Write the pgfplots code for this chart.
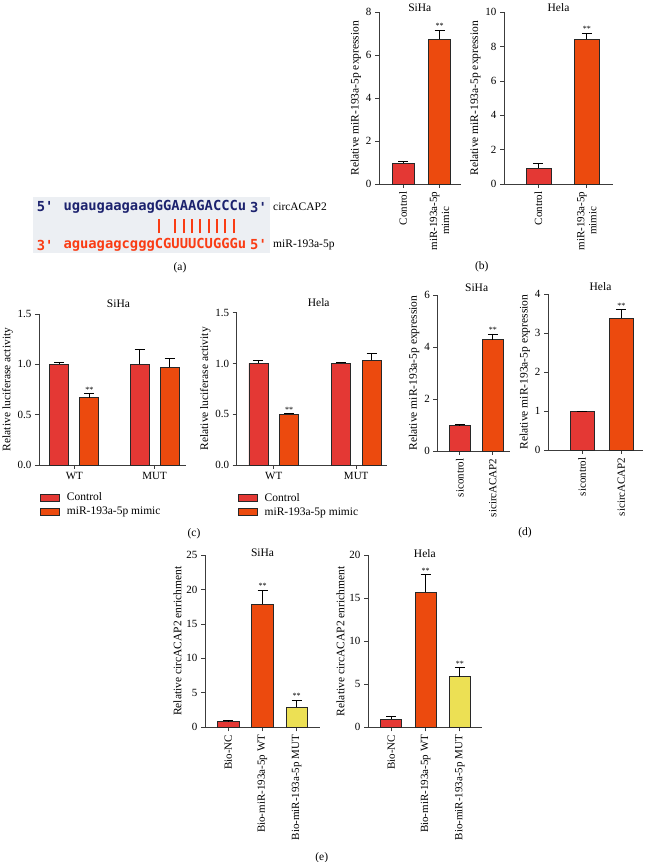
\documentclass[border=0pt]{standalone}
\usepackage{pgfplots}
\pgfplotsset{compat=1.18}
\usepackage{fontspec}
\setmainfont{Liberation Serif}
\newfontfamily\seqfont{DejaVu Sans Mono}

\definecolor{cctrl}{RGB}{228,56,52}
\definecolor{cmimic}{RGB}{236,74,14}
\definecolor{cyel}{RGB}{236,224,84}
\definecolor{edge}{RGB}{40,40,40}
\definecolor{axisc}{RGB}{60,60,60}
\definecolor{navy}{RGB}{28,34,110}
\definecolor{seqred}{RGB}{250,60,20}
\definecolor{boxbg}{RGB}{236,239,243}

\newcommand{\lab}{\fontsize{11.5}{13}\selectfont}
\newcommand{\tck}{\fontsize{11}{12}\selectfont}

\pgfplotsset{
  panel/.style={scale only axis, anchor=south west,
    axis x line*=bottom, axis y line*=left,
    axis line style={-, line width=0.8pt, axisc},
    tick align=outside, major tick length=4pt,
    tick style={line width=0.8pt, axisc},
    ymin=0, ybar, clip=false,
    /pgf/number format/assume math mode=true,
    tick label style={font=\tck},
    label style={font=\lab},
    ylabel style={yshift=-2pt},
    every axis title/.style={at={(0.5,1)}, anchor=center, font=\lab, inner sep=0pt}},
  rotlab/.style={xticklabel style={rotate=90, anchor=east, align=center}},
  bb/.style={fill=#1, draw=edge, line width=0.7pt, bar shift=0pt,
    error bars/y dir=plus, error bars/y explicit,
    error bars/error bar style={line width=0.8pt, black},
    error bars/error mark options={rotate=90, mark size=5pt, line width=0.8pt, black},
    legend image code/.code={\draw[##1] (0pt,-3.5pt) rectangle (19pt,3.5pt); \path (24pt,0pt);}},
}
\tikzset{stars/.style={font=\fontsize{8}{8}\selectfont, anchor=south, inner sep=1pt}}

\begin{document}
\begin{tikzpicture}[x=1pt,y=1pt]
\path[use as bounding box] (0,0) rectangle (648,862);

% (a) sequence pairing
\fill[boxbg] (32.7,665.3) rectangle (270,608.7);
\begin{scope}[every node/.style={anchor=west, inner sep=0pt, font=\seqfont\bfseries\fontsize{13.8}{14}\selectfont}]
  \node[text=navy] at (36.7,655) {5'};
  \node[text=navy] at (63.3,655) {ugaugaagaagGGAAAGACCCu};
  \node[text=navy] at (250,655) {3'};
  \node[text=seqred] at (36.7,617) {3'};
  \node[text=seqred] at (63.3,617) {aguagagcgggCGUUUCUGGGu};
  \node[text=seqred] at (250,617) {5'};
\end{scope}
\foreach \k in {11,13,14,15,16,17,18,19,20}
  \draw[seqred, line width=2pt] ({63.3+8.31*(\k+0.5)},628.7) -- ({63.3+8.31*(\k+0.5)},642.7);
\node[anchor=west, font=\lab, inner sep=0pt] at (273,655) {circACAP2};
\node[anchor=west, font=\lab, inner sep=0pt] at (273,617) {miR-193a-5p};
\node[font=\lab] at (180,594) {(a)};

% (b)
\begin{axis}[panel, rotlab, at={(379pt,678pt)}, width=81.7pt, height=171.7pt,
  xmin=-0.66, xmax=1.58, ymax=8, ytick={0,2,4,6,8}, bar width=22pt,
  xtick={0,1}, xticklabels={Control,{miR-193a-5p\\mimic}},
  ylabel={Relative miR-193a-5p expression}, title={SiHa}, title style={yshift=5pt}]
\addplot[bb=cctrl] coordinates {(0,0.97) +- (0,0.06)};
\addplot[bb=cmimic] coordinates {(1,6.75) +- (0,0.42)};
\node[stars] at (axis cs:1,7.17) {**};
\end{axis}

\begin{axis}[panel, rotlab, at={(504pt,678pt)}, width=109pt, height=171.7pt,
  xmin=-0.71, xmax=1.54, ymax=10, ytick={0,2,4,6,8,10}, bar width=25pt,
  xtick={0,1}, xticklabels={Control,{miR-193a-5p\\mimic}},
  ylabel={Relative miR-193a-5p expression}, title={Hela}, title style={yshift=5pt}]
\addplot[bb=cctrl] coordinates {(0,0.93) +- (0,0.25)};
\addplot[bb=cmimic] coordinates {(1,8.43) +- (0,0.36)};
\node[stars] at (axis cs:1,8.79) {**};
\end{axis}
\node[font=\lab] at (481.7,595.3) {(b)};

% (c)
\begin{axis}[panel, at={(39pt,397pt)}, width=147pt, height=151pt,
  xmin=-0.44, xmax=1.39, ymax=1.5, ytick={0,0.5,1,1.5},
  yticklabel style={/pgf/number format/.cd, fixed, fixed zerofill, precision=1},
  bar width=19pt, xtick={0,1}, xticklabels={WT,MUT},
  ylabel={Relative luciferase activity}, title={SiHa}, title style={yshift=10pt, xshift=6pt},
  legend style={at={(0.007,-0.17)}, anchor=north west, draw=none, fill=none,
    font=\lab, inner sep=0pt, row sep=1pt}, legend cell align=left]
\addplot[bb=cctrl, bar shift=-15pt] coordinates {(0,1.0) +- (0,0.015) (1,1.0) +- (0,0.15)};
\addlegendentry{Control}
\addplot[bb=cmimic, bar shift=15pt] coordinates {(0,0.67) +- (0,0.04) (1,0.97) +- (0,0.09)};
\addlegendentry{miR-193a-5p mimic}
\node[stars, xshift=15pt] at (axis cs:0,0.71) {**};
\end{axis}

\begin{axis}[panel, at={(236.7pt,397pt)}, width=150pt, height=152.3pt,
  xmin=-0.45, xmax=1.37, ymax=1.5, ytick={0,0.5,1,1.5},
  yticklabel style={/pgf/number format/.cd, fixed, fixed zerofill, precision=1},
  bar width=19pt, xtick={0,1}, xticklabels={WT,MUT},
  ylabel={Relative luciferase activity}, title={Hela}, title style={yshift=10pt, xshift=7pt},
  legend style={at={(0.007,-0.17)}, anchor=north west, draw=none, fill=none,
    font=\lab, inner sep=0pt, row sep=1pt}, legend cell align=left]
\addplot[bb=cctrl, bar shift=-15.3pt] coordinates {(0,1.0) +- (0,0.03) (1,1.0) +- (0,0.01)};
\addlegendentry{Control}
\addplot[bb=cmimic, bar shift=15.3pt] coordinates {(0,0.5) +- (0,0.01) (1,1.03) +- (0,0.07)};
\addlegendentry{miR-193a-5p mimic}
\node[stars, xshift=15.3pt] at (axis cs:0,0.51) {**};
\end{axis}
\node[font=\lab] at (194,328.7) {(c)};

% (d)
\begin{axis}[panel, rotlab, at={(437.3pt,411pt)}, width=72.7pt, height=156pt,
  xmin=-0.68, xmax=1.52, ymax=6, ytick={0,2,4,6}, bar width=20.5pt,
  xtick={0,1}, xticklabels={sicontrol,sicircACAP2},
  ylabel={Relative miR-193a-5p expression}, title={SiHa}, title style={yshift=7pt, xshift=3pt}]
\addplot[bb=cctrl] coordinates {(0,0.97) +- (0,0.04)};
\addplot[bb=cmimic] coordinates {(1,4.28) +- (0,0.22)};
\node[stars] at (axis cs:1,4.5) {**};
\end{axis}

\begin{axis}[panel, rotlab, at={(548pt,412pt)}, width=95pt, height=156pt,
  xmin=-0.875, xmax=1.555, ymax=4, ytick={0,1,2,3,4}, bar width=24pt,
  xtick={0,1}, xticklabels={sicontrol,sicircACAP2},
  ylabel={Relative miR-193a-5p expression}, title={Hela}, title style={yshift=7pt, xshift=5pt}]
\addplot[bb=cctrl] coordinates {(0,0.98) +- (0,0.02)};
\addplot[bb=cmimic] coordinates {(1,3.38) +- (0,0.22)};
\node[stars] at (axis cs:1,3.6) {**};
\end{axis}
\node[font=\lab] at (525,329.3) {(d)};

% (e)
\begin{axis}[panel, rotlab, at={(205pt,134.7pt)}, width=115pt, height=172.3pt,
  xmin=-0.68, xmax=2.68, ymax=25, ytick={0,5,10,15,20,25}, bar width=21.5pt,
  xtick={0,1,2}, xticklabels={Bio-NC,Bio-miR-193a-5p WT,Bio-miR-193a-5p MUT},
  ylabel={Relative circACAP2 enrichment}, title={SiHa}, title style={yshift=2pt}]
\addplot[bb=cctrl] coordinates {(0,0.9) +- (0,0.05)};
\addplot[bb=cmimic] coordinates {(1,17.85) +- (0,2.05)};
\addplot[bb=cyel] coordinates {(2,2.9) +- (0,1.06)};
\node[stars] at (axis cs:1,19.9) {**};
\node[stars] at (axis cs:2,3.96) {**};
\end{axis}

\begin{axis}[panel, rotlab, at={(368pt,134.7pt)}, width=113.7pt, height=172pt,
  xmin=-0.68, xmax=2.64, ymax=20, ytick={0,5,10,15,20}, bar width=21pt,
  xtick={0,1,2}, xticklabels={Bio-NC,Bio-miR-193a-5p WT,Bio-miR-193a-5p MUT},
  ylabel={Relative circACAP2 enrichment}, title={Hela}, title style={yshift=2pt}]
\addplot[bb=cctrl] coordinates {(0,0.93) +- (0,0.3)};
\addplot[bb=cmimic] coordinates {(1,15.7) +- (0,2.1)};
\addplot[bb=cyel] coordinates {(2,5.88) +- (0,1.1)};
\node[stars] at (axis cs:1,17.8) {**};
\node[stars] at (axis cs:2,6.98) {**};
\end{axis}
\node[font=\lab] at (321.7,4.7) {(e)};
\end{tikzpicture}
\end{document}
